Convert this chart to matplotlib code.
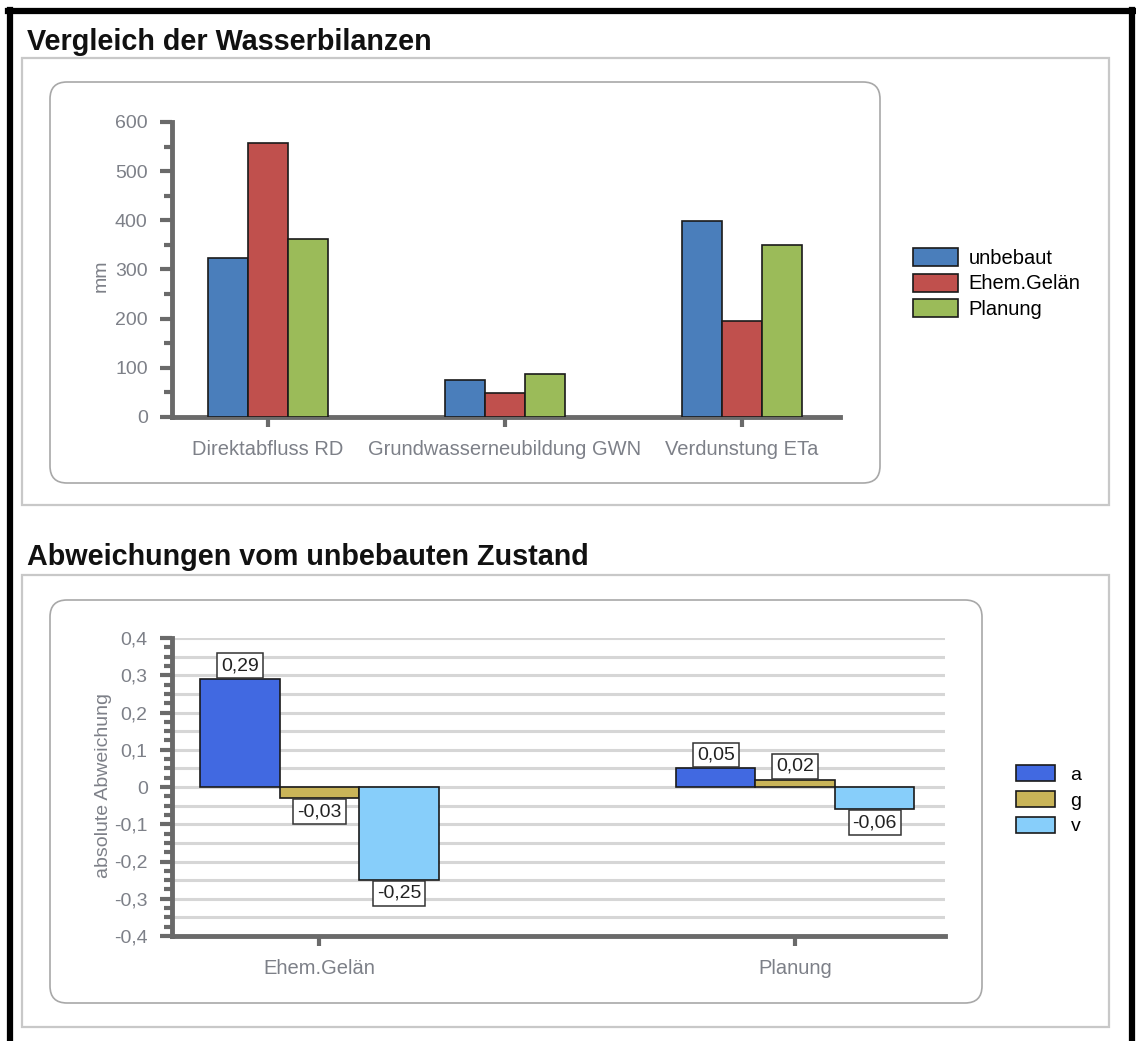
import matplotlib
matplotlib.use("Agg")
import matplotlib.pyplot as plt
from matplotlib.patches import FancyBboxPatch
from matplotlib.lines import Line2D
from matplotlib.ticker import MultipleLocator, FuncFormatter
import numpy as np

plt.rcParams['font.family'] = ['Liberation Sans', 'DejaVu Sans']

# ---------------- data ----------------
categories_top = ["Direktabfluss RD", "Grundwasserneubildung GWN", "Verdunstung ETa"]
series_top = ["unbebaut", "Ehem.Gelän", "Planung"]
unbebaut = [323, 75, 399]
ehem_gelaen = [557, 49, 196]
planung = [362, 87, 350]
colors_top = ["#4a7ebb", "#c0504d", "#9bbb59"]

categories_bot = ["Ehem.Gelän", "Planung"]
series_bot = ["a", "g", "v"]
dev_a = [0.29, 0.05]
dev_g = [-0.03, 0.02]
dev_v = [-0.25, -0.06]
colors_bot = ["#4169e1", "#c9b458", "#87cefa"]

W, H = 1136, 1041
fig = plt.figure(figsize=(W / 100, H / 100), dpi=100)
fig.patch.set_facecolor("white")

def px_rect(x0, y0, x1, y1):
    return x0 / 100, (H - y1) / 100, (x1 - x0) / 100, (y1 - y0) / 100

def add_box(x0, y0, x1, y1, rounding, ec, lw):
    x, y, w, h = px_rect(x0, y0, x1, y1)
    style = f"round,pad=0,rounding_size={rounding}" if rounding > 0 else "square,pad=0"
    p = FancyBboxPatch((x, y), w, h, boxstyle=style, transform=fig.dpi_scale_trans,
                       fc="none", ec=ec, lw=lw, zorder=0)
    fig.add_artist(p)

# black outer frame (left, top, right)
for xs, ys in [((10, 10), (10, H)), ((8, 1134), (11, 11)), ((1132, 1132), (10, H))]:
    fig.add_artist(Line2D([x / W for x in xs], [1 - y / H for y in ys],
                          transform=fig.transFigure, color="black", lw=4.5))

# gray section boxes
add_box(22, 58, 1109, 505, 0, "#c8c8c8", 1.6)
add_box(22, 575, 1109, 1027, 0, "#c8c8c8", 1.6)
# inner rounded boxes
add_box(50, 82, 880, 483, 0.17, "#a8a8a8", 1.2)
add_box(50, 600, 982, 1003, 0.17, "#a8a8a8", 1.2)

# section titles
fig.text(27 / W, 1 - 42 / H, "Vergleich der Wasserbilanzen", fontsize=20.7, fontweight="bold",
         ha="left", va="center", color="#111111")
fig.text(27 / W, 1 - 557 / H, "Abweichungen vom unbebauten Zustand", fontsize=20.7, fontweight="bold",
         ha="left", va="center", color="#111111")

axis_gray = "#6a6a6a"
tick_col = "#7d8088"

def style_axes(ax):
    for s in ["top", "right"]:
        ax.spines[s].set_visible(False)
    for s in ["left", "bottom"]:
        ax.spines[s].set_color(axis_gray)
        ax.spines[s].set_linewidth(3.5)
    ax.tick_params(axis="y", which="major", length=8.5, width=3, color=axis_gray,
                   labelsize=14, labelcolor=tick_col, pad=9)
    ax.tick_params(axis="y", which="minor", length=5.5, width=3, color=axis_gray)
    ax.tick_params(axis="x", which="major", length=7.5, width=3, color=axis_gray,
                   labelsize=14.5, labelcolor=tick_col, pad=9)
    ax.set_facecolor("none")

# ---------------- top chart ----------------
ax1 = fig.add_axes([172 / W, 1 - 417 / H, (840 - 172) / W, (417 - 122) / H])
x = np.arange(len(categories_top))
bw = 0.169
for i, (vals, name, c) in enumerate(zip([unbebaut, ehem_gelaen, planung], series_top, colors_top)):
    ax1.bar(x + (i - 1) * bw, vals, bw, color=c, edgecolor="#1a1a1a", linewidth=1.2,
            label=name, zorder=3)
ax1.set_xlim(-0.405, 2.413)
ax1.set_ylim(0, 600)
ax1.yaxis.set_major_locator(MultipleLocator(100))
ax1.yaxis.set_minor_locator(MultipleLocator(50))
ax1.set_xticks(x)
ax1.set_xticklabels(categories_top)
style_axes(ax1)
fig.text(101 / W, 1 - 276 / H, "mm", rotation=90, ha="center", va="center",
         fontsize=14, color=tick_col)
ax1.legend(loc="upper left", bbox_to_anchor=(913 / W, 1 - 248 / H),
           bbox_transform=fig.transFigure, frameon=False, fontsize=14.5,
           handlelength=2.25, handleheight=1.0, labelspacing=0.28, handletextpad=0.5,
           borderpad=0, borderaxespad=0)

# ---------------- bottom chart ----------------
ax2 = fig.add_axes([172 / W, 1 - 936 / H, (945 - 172) / W, (936 - 638) / H])
xb = np.arange(len(categories_bot))
bw2 = 0.167
for i, (vals, name, c) in enumerate(zip([dev_a, dev_g, dev_v], series_bot, colors_bot)):
    pos = xb + (i - 1) * bw2
    ax2.bar(pos, vals, bw2, color=c, edgecolor="#1a1a1a", linewidth=1.2, label=name, zorder=3)
    for px_, v in zip(pos, vals):
        label = f"{v:.2f}".replace(".", ",")
        off = 3.5 if v >= 0 else -3.5
        ax2.annotate(label, (px_, v), xytext=(0, off), textcoords="offset points",
                     ha="center", va="bottom" if v >= 0 else "top", fontsize=14,
                     color="#222222", zorder=5,
                     bbox=dict(boxstyle="square,pad=0.2", fc="white", ec="#333333", lw=1.1))
ax2.set_xlim(-0.31, 1.315)
ax2.set_ylim(-0.4, 0.4)
ax2.yaxis.set_major_locator(MultipleLocator(0.1))
ax2.yaxis.set_minor_locator(MultipleLocator(0.025))
ax2.yaxis.set_major_formatter(FuncFormatter(lambda v, p: ("%g" % round(v, 2)).replace(".", ",")))
for gy in np.arange(-0.35, 0.401, 0.05):
    ax2.axhline(gy, color="#d6d6d6", lw=2.2, zorder=1)
ax2.set_xticks(xb)
ax2.set_xticklabels(categories_bot)
style_axes(ax2)
fig.text(103 / W, 1 - 785 / H, "absolute Abweichung", rotation=90, ha="center", va="center",
         fontsize=14, color=tick_col)
ax2.legend(loc="upper left", bbox_to_anchor=(1016 / W, 1 - 765 / H),
           bbox_transform=fig.transFigure, frameon=False, fontsize=14,
           handlelength=2.0, handleheight=0.9, labelspacing=0.36, handletextpad=0.8,
           borderpad=0, borderaxespad=0)

fig.savefig("out.png", dpi=100)
